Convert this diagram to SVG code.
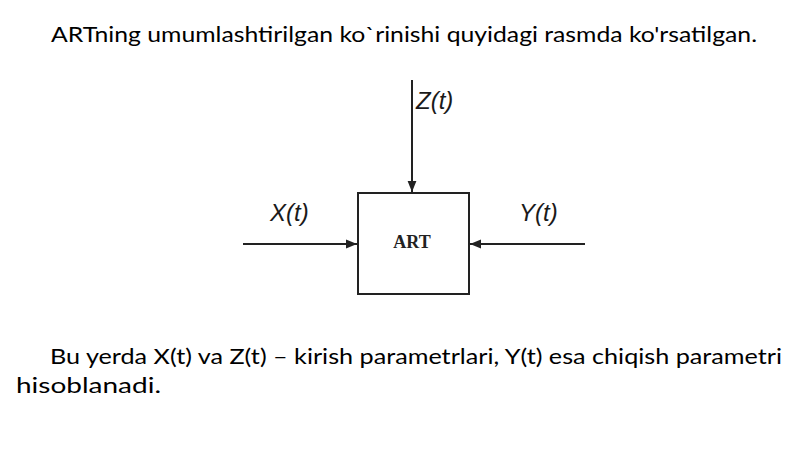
<svg xmlns="http://www.w3.org/2000/svg" width="800" height="449" viewBox="0 0 800 449">
<defs>
<style>
.para{font-family:Lato,"Open Sans","Liberation Sans",sans-serif;font-size:21px;fill:#000}
.lbl{font-family:"Liberation Sans",Arial,sans-serif;font-size:24px;font-style:italic;fill:#1a1a1a}
.node{fill:#fff;stroke:#222;stroke-width:2}
.conn{stroke:#222;stroke-width:2;fill:none}
.art{font-family:"Liberation Serif","Times New Roman",serif;font-size:18px;font-weight:bold;fill:#222}
</style>
<marker id="ah" viewBox="0 0 10 10" refX="10" refY="5" markerWidth="5.5" markerHeight="5.5" orient="auto" markerUnits="strokeWidth">
<path d="M0,1 L10,5 L0,9 z" fill="#222"/>
</marker>
</defs>
<rect width="800" height="449" fill="#fff"/>
<text class="para" x="51" y="42" textLength="706" lengthAdjust="spacingAndGlyphs">ARTning umumlashtirilgan ko`rinishi quyidagi rasmda ko'rsatilgan.</text>
<g id="connectors">
<line class="conn" x1="412" y1="80" x2="412" y2="192" marker-end="url(#ah)"/>
<line class="conn" x1="243" y1="244" x2="357" y2="244" marker-end="url(#ah)"/>
<line class="conn" x1="585" y1="244" x2="470" y2="244" marker-end="url(#ah)"/>
</g>
<g id="node-art">
<rect class="node" x="358" y="193" width="111" height="101"/>
<text class="art" x="412" y="248" text-anchor="middle">ART</text>
</g>
<g id="label-z"><text class="lbl" x="416" y="109">Z(t)</text></g>
<g id="label-x"><text class="lbl" x="270" y="221">X(t)</text></g>
<g id="label-y"><text class="lbl" x="519" y="221">Y(t)</text></g>
<text class="para" x="50" y="364" textLength="732" lengthAdjust="spacingAndGlyphs">Bu yerda X(t) va Z(t) – kirish parametrlari, Y(t) esa chiqish parametri</text>
<text class="para" x="16" y="393" textLength="145" lengthAdjust="spacingAndGlyphs">hisoblanadi.</text>
</svg>
